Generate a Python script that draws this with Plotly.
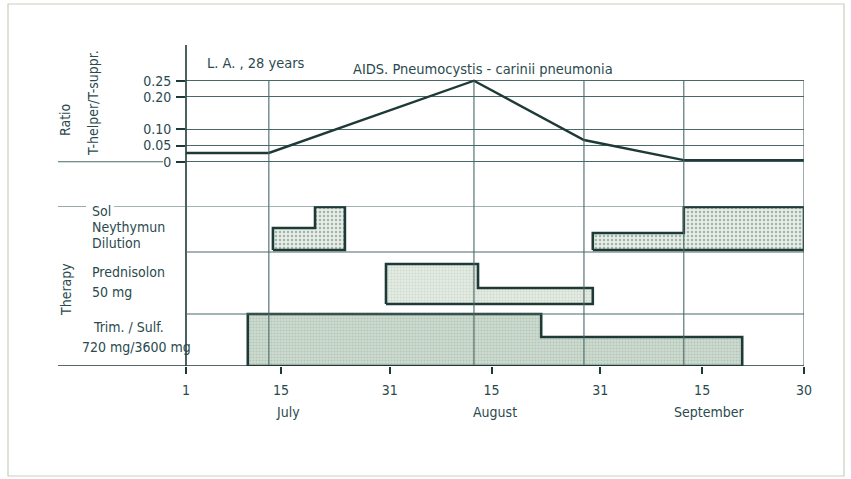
import plotly.graph_objects as go

# ---- data ---------------------------------------------------------------
# time axis: day of the observation period, 1 July = day 1
tick_days = [1, 15, 31, 46, 62, 77, 92]
tick_text = ["1", "15", "31", "15", "31", "15", "30"]
months = ["July", "August", "September"]
month_days = [16, 46.5, 78]

# T-helper / T-suppressor ratio
ratio_days = [1, 13.2, 43.4, 59.6, 74.3, 92]
ratio_vals = [0.027, 0.027, 0.25, 0.067, 0.005, 0.005]
ratio_ticks = [0, 0.05, 0.10, 0.20, 0.25]
ratio_ticktext = ["0", "0.05", "0.10", "0.20", "0.25"]

# therapy rows (bottom edge, top edge) in row units of the therapy panel
row_names = ["Trim./Sulf.", "Prednisolon", "Sol Neythymun Dilution"]
row_edges = [0, 52, 114, 160]

# treatment courses: (start day, end day, intensity level in row units)
trim_sulf = [(10.1, 53.3, 52), (53.3, 82.9, 29)]
trim_base = 0
prednisolon = [(30.45, 44.0, 102), (44.0, 60.9, 78)]
pred_base = 62
neythymun_1 = [(13.8, 20.0, 138), (20.0, 24.4, 159)]
neythymun_2 = [(60.9, 74.3, 133), (74.3, 92, 159)]
neyt_base = 116

# ---- styling ------------------------------------------------------------
INK = "#1e3a36"
TEXT = "#2a4a4e"
GRID = "#4a6868"
FONT = "DejaVu Sans Condensed, Liberation Sans Narrow, Roboto, sans-serif"

W, H = 851, 479
ML, MR, MT, MB = 186, 47, 45, 113
PW, PH = W - ML - MR, H - MT - MB

RATIO_DOM = [0.5483, 1.0]
RATIO_RANGE = [-0.0873, 0.3602]
THER_DOM = [0.0, 0.4984]
THER_RANGE = [0, 160]


def px(xp):
    """horizontal pixel -> paper fraction"""
    return (xp - ML) / PW


def py(yp):
    """vertical pixel -> paper fraction"""
    return (H - MB - yp) / PH


def ratio_to_paper(v):
    f = (v - RATIO_RANGE[0]) / (RATIO_RANGE[1] - RATIO_RANGE[0])
    return RATIO_DOM[0] + f * (RATIO_DOM[1] - RATIO_DOM[0])


def step_polygon(segments, base):
    xs, ys = [segments[0][0]], [base]
    for s, e, lvl in segments:
        xs += [s, e]
        ys += [lvl, lvl]
    xs += [segments[-1][1], segments[0][0]]
    ys += [base, base]
    return xs, ys


fig = go.Figure()

# therapy courses
courses = [
    (trim_sulf, trim_base, "#cddbcf", "#9bb09f", 3, 0.35),
    (prednisolon, pred_base, "#e3ebe3", "#b8c8bb", 3, 0.3),
    (neythymun_1, neyt_base, "#e7eee7", "#5f776a", 4, 0.3),
    (neythymun_2, neyt_base, "#e7eee7", "#5f776a", 4, 0.3),
]
for segs, base, bg, fg, size, sol in courses:
    xs, ys = step_polygon(segs, base)
    fig.add_trace(go.Scatter(
        x=xs, y=ys, mode="lines", fill="toself",
        fillcolor=bg,
        fillpattern=dict(shape=".", bgcolor=bg, fgcolor=fg, size=size, solidity=sol),
        line=dict(color=INK, width=2.6), xaxis="x", yaxis="y",
        hoverinfo="skip", showlegend=False,
    ))

# ratio curve
fig.add_trace(go.Scatter(
    x=ratio_days, y=ratio_vals, mode="lines",
    line=dict(color=INK, width=2.4), xaxis="x", yaxis="y2",
    showlegend=False, hoverinfo="skip",
))

shapes = []
line_thin = dict(color=GRID, width=1.1)
line_dark = dict(color=INK, width=1.6)

# vertical grid lines at the measurement days and at the end of the period
for d in ratio_days[1:]:
    shapes.append(dict(type="line", xref="x", yref="paper", x0=d, x1=d,
                       y0=0, y1=ratio_to_paper(0.25), line=line_thin, layer="above"))

# left axis line
shapes.append(dict(type="line", xref="paper", yref="paper", x0=0, x1=0,
                   y0=0, y1=1, line=line_dark))

# horizontal row separators of the therapy panel
shapes.append(dict(type="line", xref="paper", yref="y", x0=px(58), x1=1,
                   y0=row_edges[0], y1=row_edges[0], line=line_dark))
for e in row_edges[1:3]:
    shapes.append(dict(type="line", xref="paper", yref="y", x0=0, x1=1,
                       y0=e, y1=e, line=line_thin))
shapes.append(dict(type="line", xref="paper", yref="y", x0=px(58), x1=px(86),
                   y0=row_edges[3], y1=row_edges[3], line=line_thin))
shapes.append(dict(type="line", xref="paper", yref="y", x0=px(114), x1=1,
                   y0=row_edges[3], y1=row_edges[3], line=line_thin))

# zero line continues to the left of the ratio scale
shapes.append(dict(type="line", xref="paper", yref="y2", x0=px(58), x1=px(163),
                   y0=0, y1=0, line=line_thin))

# outer frame
shapes.append(dict(type="rect", xref="paper", yref="paper",
                   x0=px(8), x1=px(844), y0=py(476), y1=py(4),
                   line=dict(color="#c9cfc0", width=1.2)))

annotations = []


def label(text, xp, yp, size=14, anchor="left", angle=0, yanchor="middle"):
    annotations.append(dict(
        text=text, x=px(xp), y=py(yp), xref="paper", yref="paper",
        xanchor=anchor, yanchor=yanchor, showarrow=False, textangle=angle,
        font=dict(family=FONT, size=size, color=TEXT),
    ))


label("L. A. , 28 years", 205, 63, size=14.5)
label("AIDS. Pneumocystis - carinii pneumonia", 351, 69, size=14.5)
label("Ratio", 65, 120, angle=-90, anchor="center")
label("T-helper/T-suppr.", 93, 103, angle=-90, anchor="center")
label("Therapy", 66, 290, angle=-90, anchor="center")

label("Sol", 90, 211)
label("Neythymun", 90, 227)
label("Dilution", 90, 243)
label("Prednisolon", 90, 272)
label("50 mg", 90, 292)
label("Trim. / Sulf.", 91, 327)
label("720 mg/3600 mg", 80, 347)

for m, d in zip(months, month_days):
    annotations.append(dict(
        text=m, x=d, y=py(412), xref="x", yref="paper", xanchor="center",
        yanchor="middle", showarrow=False,
        font=dict(family=FONT, size=14, color=TEXT),
    ))

fig.update_layout(
    width=W, height=H, autosize=False,
    margin=dict(l=ML, r=MR, t=MT, b=MB, pad=0),
    paper_bgcolor="white", plot_bgcolor="rgba(0,0,0,0)",
    showlegend=False,
    xaxis=dict(
        range=[1, 92], tickvals=tick_days, ticktext=tick_text,
        showgrid=False, zeroline=False, showline=False,
        ticks="outside", ticklen=7, tickwidth=1.5, tickcolor=INK,
        ticklabelstandoff=4,
        tickfont=dict(family=FONT, size=14, color=TEXT),
    ),
    yaxis=dict(
        domain=THER_DOM, range=THER_RANGE, visible=False,
    ),
    yaxis2=dict(
        domain=RATIO_DOM, range=RATIO_RANGE, anchor="x",
        tickvals=ratio_ticks, ticktext=ratio_ticktext,
        showgrid=True, gridcolor=GRID, gridwidth=1.1, zeroline=False,
        showline=False, ticks="outside", ticklen=9, tickwidth=1.5, tickcolor=INK,
        ticklabelstandoff=2,
        tickfont=dict(family=FONT, size=14, color=TEXT),
    ),
    shapes=shapes,
    annotations=annotations,
)

fig.write_html("out.html")
